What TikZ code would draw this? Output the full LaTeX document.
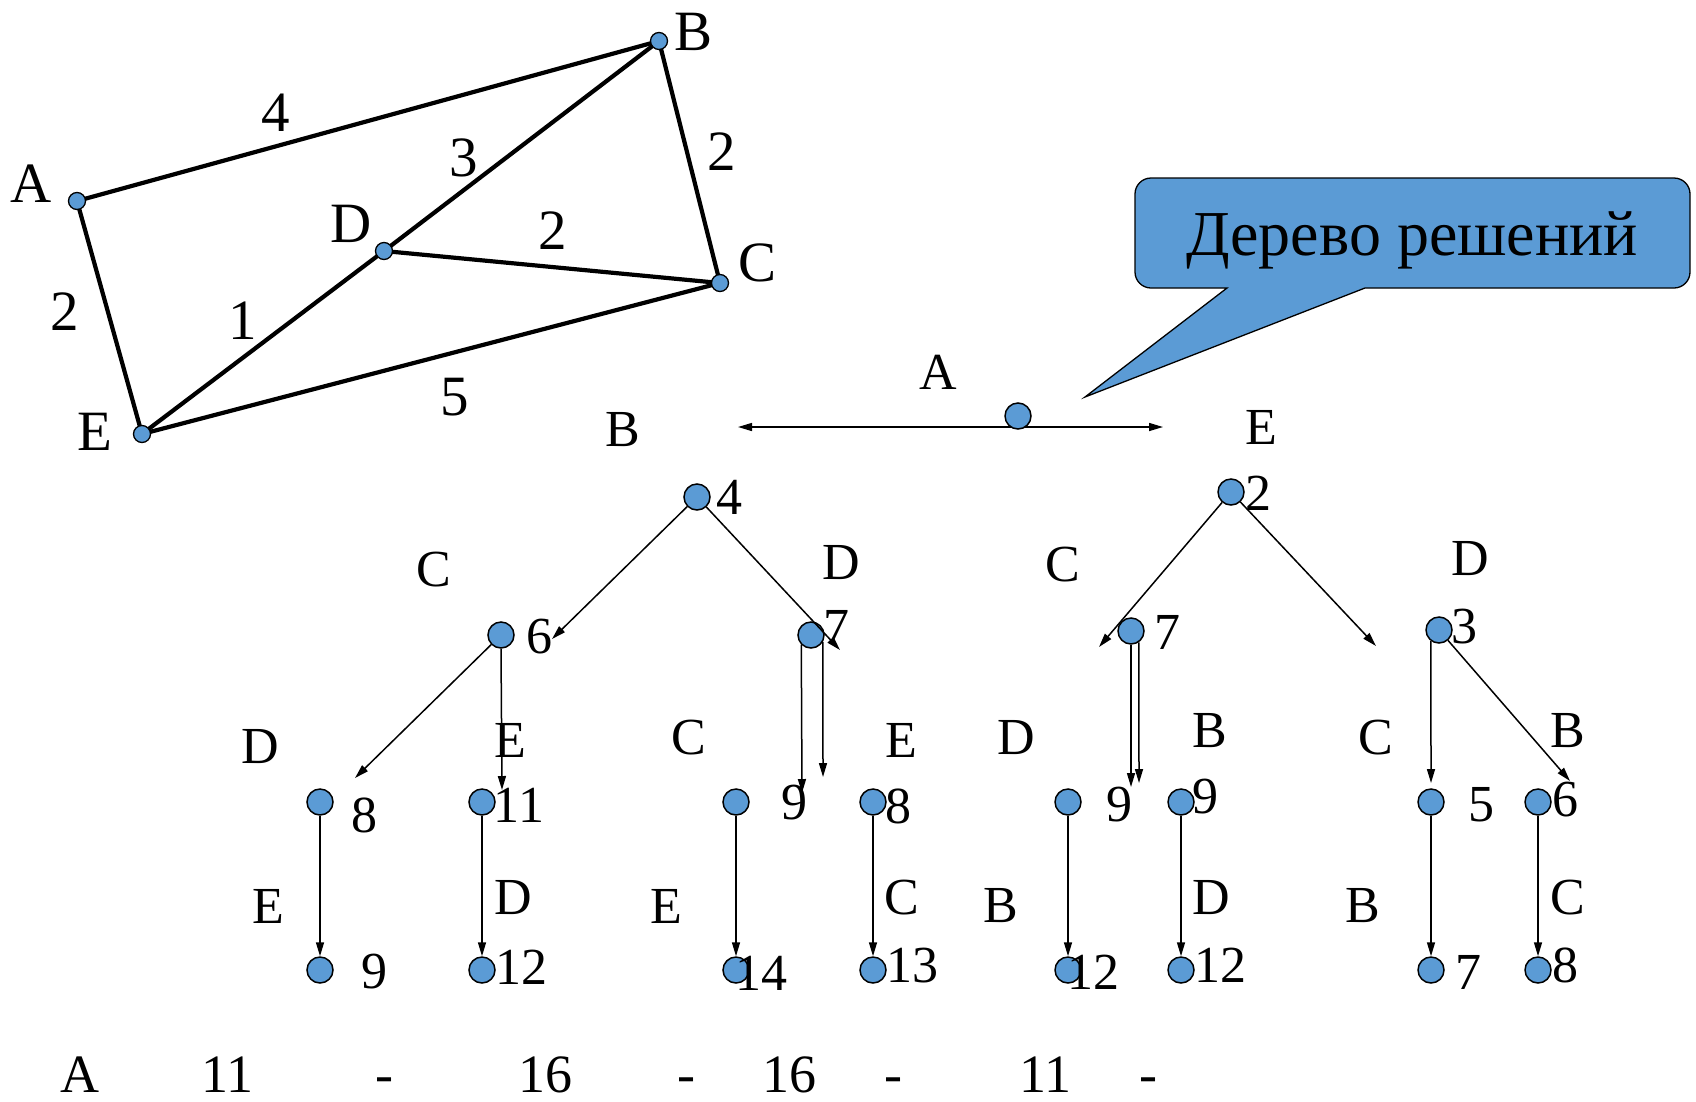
\documentclass[tikz,border=0pt]{standalone}
\usepackage{fontspec}
\setmainfont{Liberation Serif}
\usetikzlibrary{arrows.meta,backgrounds}
\definecolor{nodeblue}{RGB}{91,155,213}
\begin{document}
\begin{tikzpicture}[x=1pt,y=-1pt,
  gnode/.style={circle,draw=black,line width=1.3pt,fill=nodeblue,inner sep=0pt,minimum size=17pt},
  tnode/.style={circle,draw=black,line width=1.5pt,fill=nodeblue,inner sep=0pt,minimum size=26pt},
  lbl/.style={inner sep=0pt,font=\fontsize{52}{60}\selectfont},
  glbl/.style={inner sep=0pt,font=\fontsize{57}{64}\selectfont},
  rowlbl/.style={inner sep=0pt,anchor=base,font=\fontsize{54}{60}\selectfont},
  gedge/.style={line width=4.2pt},
  arr/.style={line width=1.5pt,-{Triangle[length=14pt,width=8pt]}},
  darr/.style={line width=1.5pt,{Triangle[length=14pt,width=8pt]}-{Triangle[length=14pt,width=8pt]}},
]
\useasboundingbox (0,0) rectangle (1696,1101);

% ---------------- graph ----------------
\node[gnode] (gA) at (77,201) {};
\node[gnode] (gB) at (659,41) {};
\node[gnode] (gC) at (720,283) {};
\node[gnode] (gD) at (384,251) {};
\node[gnode] (gE) at (142,434) {};
\begin{scope}[on background layer]
\draw[gedge] (gA.center) -- (gB.center);
\draw[gedge] (gB.center) -- (gC.center);
\draw[gedge] (gA.center) -- (gE.center);
\draw[gedge] (gE.center) -- (gD.center);
\draw[gedge] (gD.center) -- (gB.center);
\draw[gedge] (gD.center) -- (gC.center);
\draw[gedge] (gE.center) -- (gC.center);
\end{scope}
\node[glbl] (glA) at (31,184) {A};
\node[glbl] (glB) at (693,32) {B};
\node[glbl] (glC) at (757,263) {C};
\node[glbl] (glD) at (351,224) {D};
\node[glbl] (glE) at (95,432) {E};
\node[glbl] (wAB) at (276,113) {4};
\node[glbl] (wDB) at (464,158) {3};
\node[glbl] (wBC) at (722,152) {2};
\node[glbl] (wDC) at (553,231) {2};
\node[glbl] (wAE) at (65,312) {2};
\node[glbl] (wED) at (243,321) {1};
\node[glbl] (wEC) at (455,397) {5};

% ---------------- callout ----------------
\filldraw[fill=nodeblue,draw=black,line width=1.3pt]
  (1085,397) -- (1365,288) [rounded corners=16pt] -- (1690,288) -- (1690,178)
  -- (1135,178) -- (1135,288) [sharp corners] -- (1227,288) -- cycle;
\node[inner sep=0pt,anchor=base,font=\fontsize{64}{70}\selectfont] (callout) at (1412,255) {Дерево решений};

% ---------------- tree: root ----------------
\coordinate (rootL) at (738,427);
\coordinate (rootR) at (1163,427);
\begin{scope}[on background layer]
\draw[darr] (rootL) -- (rootR);
\end{scope}
\node[tnode] (root) at (1018,416) {};
\node[lbl] (trA) at (938,372) {A};
\node[lbl] (trB) at (623,430) {B};
\node[lbl] (trE) at (1261,427) {E};

% level 1
\node[tnode] (b4) at (697,497) {};
\node[lbl] (b4n) at (729,497) {4};
\node[tnode] (e2) at (1231,492) {};
\node[lbl] (e2n) at (1258,493) {2};

% level 1 labels
\node[lbl] (l1C) at (434,570) {C};
\node[lbl] (l1D) at (841,563) {D};
\node[lbl] (l1C2) at (1063,565) {C};
\node[lbl] (l1D2) at (1470,559) {D};

% level 2 (nodes 6,7,7,3)
\node[tnode] (n6) at (501,635) {};
\node[lbl] (n6n) at (539,637) {6};
\node[tnode] (n7L) at (811,635) {};
\node[lbl] (n7Ln) at (836,627) {7};
\node[tnode] (n7R) at (1131,631) {};
\node[lbl] (n7Rn) at (1167,632) {7};
\node[tnode] (n3) at (1439,630) {};
\node[lbl] (n3n) at (1464,627) {3};

\coordinate (t1) at (552,639);
\coordinate (t2) at (840,650);
\coordinate (t3) at (1099,647);
\coordinate (t4) at (1376,646);
\draw[arr] (b4) -- (t1);
\draw[arr] (b4) -- (t2);
\draw[arr] (e2) -- (t3);
\draw[arr] (e2) -- (t4);

% level 2 labels
\node[lbl] (l2a) at (260,747) {D};
\node[lbl] (l2b) at (510,740) {E};
\node[lbl] (l2c) at (689,738) {C};
\node[lbl] (l2d) at (901,740) {E};
\node[lbl] (l2e) at (1016,738) {D};
\node[lbl] (l2f) at (1210,731) {B};
\node[lbl] (l2g) at (1376,738) {C};
\node[lbl] (l2h) at (1568,731) {B};

% level 3 nodes (y=802)
\node[tnode] (m1) at (320,802) {};
\node[lbl] (m1n) at (364,815) {8};
\node[tnode] (m2) at (482,802) {};
\node[lbl] (m2n) at (519,805) {11};
\node[tnode] (m3) at (736,802) {};
\node[lbl] (m3n) at (794,803) {9};
\node[tnode] (m4) at (873,802) {};
\node[lbl] (m4n) at (898,806) {8};
\node[tnode] (m5) at (1068,802) {};
\node[lbl] (m5n) at (1119,805) {9};
\node[tnode] (m6) at (1181,802) {};
\node[lbl] (m6n) at (1205,797) {9};
\node[tnode] (m7) at (1431,802) {};
\node[lbl] (m7n) at (1481,805) {5};
\node[tnode] (m8) at (1538,802) {};
\node[lbl] (m8n) at (1565,800) {6};

\coordinate (u1) at (355,778);
\coordinate (u2) at (502,790);
\coordinate (u3) at (802,793);
\coordinate (u4) at (823,777);
\coordinate (u5) at (1131,787);
\coordinate (u6) at (1139,783);
\coordinate (u7) at (1431,783);
\coordinate (u8) at (1570,781);
\draw[arr] (n6) -- (u1);
\draw[arr] (n6.south) -- (u2);
\draw[arr] (n7L.south west) -- (u3);
\draw[arr] (n7L.-30) -- (u4);
\draw[arr] (n7R.south) -- (u5);
\draw[arr] (n7R.-55) -- (u6);
\draw[arr] (n3.-126) -- (u7);
\draw[arr] (n3) -- (u8);

% level 3 labels
\node[lbl] (l3a) at (268,906) {E};
\node[lbl] (l3b) at (513,898) {D};
\node[lbl] (l3c) at (666,906) {E};
\node[lbl] (l3d) at (902,898) {C};
\node[lbl] (l3e) at (1001,906) {B};
\node[lbl] (l3f) at (1211,898) {D};
\node[lbl] (l3g) at (1363,906) {B};
\node[lbl] (l3h) at (1568,898) {C};

% level 4 nodes (y=970)
\node[tnode] (k1) at (320,970) {};
\node[tnode] (k2) at (482,970) {};
\node[tnode] (k3) at (736,970) {};
\node[tnode] (k4) at (873,970) {};
\node[tnode] (k5) at (1068,970) {};
\node[tnode] (k6) at (1181,970) {};
\node[tnode] (k7) at (1431,970) {};
\node[tnode] (k8) at (1538,970) {};
\node[lbl] (k1n) at (374,972) {9};
\node[lbl] (k2n) at (521,967) {12};
\node[lbl] (k3n) at (761,973) {14};
\node[lbl] (k4n) at (912,966) {13};
\node[lbl] (k5n) at (1093,972) {12};
\node[lbl] (k6n) at (1220,965) {12};
\node[lbl] (k7n) at (1468,972) {7};
\node[lbl] (k8n) at (1565,965) {8};

\draw[arr] (m1) -- (k1.north);
\draw[arr] (m2) -- (k2.north);
\draw[arr] (m3) -- (k3.north);
\draw[arr] (m4) -- (k4.north);
\draw[arr] (m5) -- (k5.north);
\draw[arr] (m6) -- (k6.north);
\draw[arr] (m7) -- (k7.north);
\draw[arr] (m8) -- (k8.north);

% bottom row
\node[rowlbl] (s1) at (80,1092) {A};
\node[rowlbl] (s2) at (227,1092) {11};
\node[rowlbl] (s3) at (384,1092) {-};
\node[rowlbl] (s4) at (545,1092) {16};
\node[rowlbl] (s5) at (686,1092) {-};
\node[rowlbl] (s6) at (789,1092) {16};
\node[rowlbl] (s7) at (893,1092) {-};
\node[rowlbl] (s8) at (1045,1092) {11};
\node[rowlbl] (s9) at (1148,1092) {-};
\end{tikzpicture}
\end{document}
